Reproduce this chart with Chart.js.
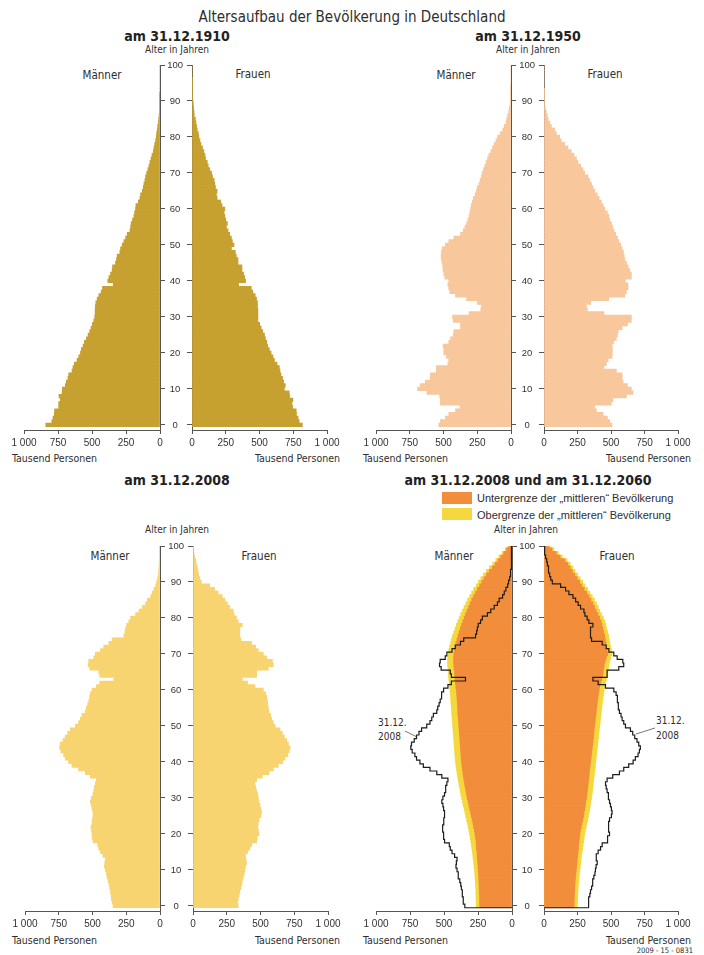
<!DOCTYPE html>
<html lang="de">
<head>
<meta charset="utf-8">
<title>Altersaufbau der Bevölkerung in Deutschland</title>
<script src="https://cdn.jsdelivr.net/npm/chart.js@4.4.1/dist/chart.umd.min.js"></script>
<style>
  html, body { margin: 0; padding: 0; background: #fff; }
  body { width: 704px; height: 955px; position: relative; overflow: hidden;
         font-family: "Liberation Sans Narrow", "DejaVu Sans Condensed", "Liberation Sans", sans-serif; color: #2e2e2e; }
  canvas { position: absolute; }
  .t { position: absolute; white-space: nowrap; line-height: 1; }
  .c { transform: translate(-50%, -50%); }
  .l { transform: translate(0, -50%); }
  .r { transform: translate(-100%, -50%); }
  .title { font-size: 15px; }
  .head { font-size: 14px; font-weight: bold; color: #222; }
  .small { font-size: 10px; }
  .sex { font-size: 11.5px; }
  .unit { font-size: 10.5px; }
  .leg { font-size: 11px; font-family: "Liberation Sans", sans-serif; }
  .sw { position: absolute; width: 30px; height: 12px; }
</style>
</head>
<body>

<div class="t c title" style="left:352px; top:17px;">Altersaufbau der Bevölkerung in Deutschland</div>

<div class="t c head" style="left:177px; top:36px;">am 31.12.1910</div>
<div class="t c head" style="left:528px; top:36px;">am 31.12.1950</div>
<div class="t c head" style="left:177px; top:480px;">am 31.12.2008</div>
<div class="t c head" style="left:528px; top:480px;">am 31.12.2008 und am 31.12.2060</div>

<div class="t c small" style="left:177px; top:50px;">Alter in Jahren</div>
<div class="t c small" style="left:528px; top:50px;">Alter in Jahren</div>
<div class="t c small" style="left:177px; top:530px;">Alter in Jahren</div>
<div class="t c small" style="left:526px; top:530px;">Alter in Jahren</div>

<div class="t c sex" style="left:102px; top:76px;">Männer</div>
<div class="t c sex" style="left:253px; top:75px;">Frauen</div>
<div class="t c sex" style="left:456px; top:76px;">Männer</div>
<div class="t c sex" style="left:605px; top:75px;">Frauen</div>
<div class="t c sex" style="left:110px; top:557px;">Männer</div>
<div class="t c sex" style="left:259px; top:557px;">Frauen</div>
<div class="t c sex" style="left:454px; top:557px;">Männer</div>
<div class="t c sex" style="left:617px; top:557px;">Frauen</div>

<div class="t l unit" style="left:12px; top:458px;">Tausend Personen</div>
<div class="t r unit" style="left:340px; top:458px;">Tausend Personen</div>
<div class="t l unit" style="left:363px; top:458px;">Tausend Personen</div>
<div class="t r unit" style="left:691px; top:458px;">Tausend Personen</div>
<div class="t l unit" style="left:12px; top:940px;">Tausend Personen</div>
<div class="t r unit" style="left:340px; top:940px;">Tausend Personen</div>
<div class="t l unit" style="left:363px; top:940px;">Tausend Personen</div>
<div class="t r unit" style="left:691px; top:940px;">Tausend Personen</div>

<div class="sw" style="left:442px; top:492px; background:#f28d3b;"></div>
<div class="sw" style="left:442px; top:508px; background:#f5d73e;"></div>
<div class="t l leg" style="left:477px; top:498px;">Untergrenze der „mittleren“ Bevölkerung</div>
<div class="t l leg" style="left:477px; top:515px;">Obergrenze der „mittleren“ Bevölkerung</div>

<div class="t l small" style="left:378px; top:723px;">31.12.</div>
<div class="t l small" style="left:378px; top:737px;">2008</div>
<div class="t l small" style="left:656px; top:721px;">31.12.</div>
<div class="t l small" style="left:656px; top:736px;">2008</div>
<svg style="position:absolute; left:0; top:0;" width="704" height="955">
  <line x1="405" y1="731" x2="417" y2="737" stroke="#555" stroke-width="0.8"/>
  <line x1="655" y1="728" x2="636" y2="734" stroke="#555" stroke-width="0.8"/>
</svg>

<div class="t r" style="left:693px; top:951px; font-size:7.5px;">2009 - 15 - 0831</div>

<script>
const ages = [0,1,2,3,4,5,6,7,8,9,10,11,12,13,14,15,16,17,18,19,20,21,22,23,24,25,26,27,28,29,30,
  31,32,33,34,35,36,37,38,39,40,41,42,43,44,45,46,47,48,49,50,51,52,53,54,55,56,57,58,59,60,
  61,62,63,64,65,66,67,68,69,70,71,72,73,74,75,76,77,78,79,80,81,82,83,84,85,86,87,88,89,90,
  91,92,93,94,95,96,97,98,99,100];

const ageTicks = [0, 10, 20, 30, 40, 50, 60, 70, 80, 90, 100];
const xTicks = [0, 250, 500, 750, 1000];
const xTickLabels = ['0', '250', '500', '750', '1 000'];

// Tausend Personen, je Altersjahr 0..100
const m1910 = [840,795,787,777,775,745,745,733,743,720, 718,696,689,677,672,647,640,630,610,598,
  585,578,566,556,541,529,517,507,497,487, 480,477,477,475,472,462,450,433,423,344,
  384,376,364,352,349,327,320,315,295,290, 278,266,253,241,221,216,212,202,192,187,
  180,177,160,148,143,130,123,118,111,106, 98,89,81,74,66,59,49,44,39,32,
  27,25,20,17,12,10,7,5,3,2, 1,1,1,0,0,0,0,0,0,0,0];
const f1910 = [818,794,786,774,772,745,740,747,723,720, 684,691,679,671,659,652,647,630,610,600,
  586,573,561,554,544,537,524,512,502,488, 488,488,488,485,485,478,468,451,439,345,
  397,390,382,370,370,341,341,328,321,292, 311,299,292,279,267,255,262,250,243,238,
  243,223,213,186,181,186,174,169,164,152, 145,132,120,113,100,96,88,78,66,59,
  51,47,39,34,29,25,17,15,12,10, 7,5,5,3,2,1,1,0,0,0,0];

const m1950 = [535,523,486,461,411,378,523,523,528,623, 692,672,635,598,598,553,553,468,461,478,
  498,498,503,461,448,428,423,374,374,428, 433,311,224,219,249,329,411,453,461,468,
  461,490,498,503,505,510,515,518,515,510, 486,461,423,374,354,341,329,319,311,304,
  299,294,286,279,266,256,249,237,229,219, 212,204,194,184,174,164,149,137,125,112,
  100,80,62,50,37,32,25,17,12,7, 5,3,2,1,1,0,0,0,0,0,0];
const f1950 = [508,490,473,441,391,378,503,515,615,665, 652,623,590,583,583,540,448,466,478,508,
  510,510,508,520,540,548,553,583,623,652, 652,448,324,316,349,483,603,615,627,627,
  608,652,652,640,627,615,603,598,593,583, 573,558,548,535,523,513,503,490,483,473,
  453,441,428,411,398,378,366,354,341,329, 304,291,274,254,242,224,204,179,154,129,
  117,92,80,55,42,30,25,17,10,5, 3,2,1,1,0,0,0,0,0,0,0];

const m2008 = [347,355,360,362,367,372,377,384,392,397, 404,412,409,404,422,441,454,461,496,503,
  503,508,511,503,501,496,496,503,508,516, 508,496,491,486,479,471,516,553,603,652,
  677,702,714,734,744,739,719,702,684,665, 627,603,590,578,553,546,536,528,521,516,
  503,471,446,342,446,454,521,533,528,491, 479,441,417,379,355,268,260,255,248,231,
  218,181,156,131,107,94,69,57,45,32, 25,17,12,10,7,7,5,4,3,2,1];
const f2008 = [335,330,335,342,347,355,360,365,372,380, 384,389,397,392,389,404,422,434,471,476,
  489,484,479,484,489,503,508,503,496,489, 484,479,471,464,459,471,513,563,595,632,
  665,682,702,712,719,707,694,677,662,645, 608,595,583,575,563,558,553,551,546,538,
  521,459,404,365,471,471,558,595,588,546, 521,484,464,434,355,347,347,347,365,335,
  322,305,298,273,255,236,216,186,161,124, 62,50,42,37,32,25,20,12,7,5,3];

// 2060: Untergrenze / Obergrenze der "mittleren" Bevölkerung
const m2060low = [238,238,238,239,240,241,242,243,245,246, 248,250,252,254,256,258,261,263,265,268,
  272,277,282,287,293,299,305,311,317,323, 329,334,339,344,349,353,357,361,365,368,
  371,373,375,377,379,381,383,385,387,389, 391,393,395,397,399,400,401,403,405,407,
  410,413,416,419,421,423,426,428,430,429, 427,423,418,412,405,397,389,380,371,362,
  352,342,331,320,308,296,283,269,254,238, 222,206,188,168,146,124,103,82,60,40,22];
const m2060high = [263,263,264,265,266,267,268,270,272,274, 276,279,282,285,288,291,295,299,303,307,
  312,317,322,328,334,340,346,352,358,364, 370,376,381,386,391,396,400,404,408,412,
  415,418,420,422,424,426,428,430,432,434, 436,438,440,442,444,446,448,450,452,454,
  456,459,462,465,467,469,471,473,474,472, 469,465,459,452,445,437,428,419,409,399,
  388,377,365,353,340,326,312,297,281,264, 247,229,210,189,166,142,119,96,72,50,30];
const f2060low = [224,225,226,227,228,229,231,233,235,238, 241,243,246,248,251,254,257,259,262,265,
  268,272,278,284,290,295,299,304,308,312, 317,320,324,327,330,333,336,338,341,344,
  348,351,354,357,360,364,367,370,372,375, 378,381,384,387,390,393,396,399,403,407,
  411,415,422,430,438,442,446,450,457,465, 476,472,466,462,458,453,446,440,433,427,
  415,403,390,378,365,350,335,318,300,282, 266,248,230,212,195,178,155,120,92,60,35];
const f2060high = [249,250,251,252,254,255,257,259,262,265, 268,271,274,277,280,284,288,292,296,300,
  304,309,315,321,327,332,337,342,346,350, 355,358,362,365,368,371,374,377,380,383,
  386,389,392,395,398,401,404,407,410,413, 416,419,422,425,428,431,434,437,441,445,
  449,453,459,466,473,477,481,485,491,498, 508,503,497,492,487,482,475,468,461,454,
  442,429,416,404,391,376,360,343,325,306, 289,270,251,232,214,196,172,136,107,74,48];

const FONT = '"Liberation Sans", sans-serif';
Chart.defaults.font.family = FONT;
Chart.defaults.color = '#333';

function bars(values, color, order) {
  return {
    data: ages.map((a, i) => ({ x: values[i], y: a })),
    backgroundColor: color,
    borderWidth: 0,
    grouped: false,
    barPercentage: 1,
    categoryPercentage: 1,
    order: order
  };
}

function outline(values) {
  const pts = [{ x: 0, y: -0.5 }];
  ages.forEach((a, i) => {
    pts.push({ x: values[i], y: a - 0.5 }, { x: values[i], y: a + 0.5 });
  });
  pts.push({ x: 0, y: 100.5 });
  return {
    type: 'line', data: pts, borderColor: '#1d1d1d', borderWidth: 1.2,
    pointRadius: 0, fill: false, tension: 0, order: 0
  };
}

function addCanvas(x, y, w, h) {
  const c = document.createElement('canvas');
  c.width = w; c.height = h;
  c.style.left = x + 'px'; c.style.top = y + 'px';
  c.style.width = w + 'px'; c.style.height = h + 'px';
  document.body.appendChild(c);
  return c;
}

function half(side, p, datasets) {
  const isLeft = side === 'left';
  const h = 10 + (p.bottom - p.top) + 30;
  let x, w, yWidth;
  if (isLeft) {
    x = p.L[0] - 20; w = p.L[1] + 5 - x; yWidth = 5;
  } else {
    x = p.L[1] + 5; yWidth = p.R[0] - x; w = p.R[1] + 20 - x;
  }
  const canvas = addCanvas(x, p.top - 10, w, h);
  return new Chart(canvas, {
    type: 'bar',
    data: { datasets: datasets },
    options: {
      responsive: false,
      animation: false,
      indexAxis: 'y',
      layout: { padding: { left: isLeft ? 20 : 0, right: isLeft ? 0 : 20, top: 10, bottom: 0 } },
      plugins: { legend: { display: false }, tooltip: { enabled: false } },
      scales: {
        x: {
          type: 'linear', min: 0, max: 1000, reverse: isLeft,
          afterBuildTicks: s => { s.ticks = xTicks.map(v => ({ value: v })); },
          afterFit: s => { s.height = 30; },
          ticks: {
            callback: v => xTickLabels[xTicks.indexOf(v)],
            font: { size: 10 }, color: '#333', padding: 3, maxRotation: 0, autoSkip: false
          },
          grid: { drawOnChartArea: false, tickLength: 4, color: '#555' },
          border: { color: '#555', width: 1 }
        },
        y: {
          type: 'linear', min: -1.4, max: 100, offset: false, position: isLeft ? 'right' : 'left',
          afterBuildTicks: s => { s.ticks = ageTicks.map(v => ({ value: v })); },
          afterFit: s => { s.width = yWidth; },
          ticks: { display: !isLeft, crossAlign: 'center', padding: 4, font: { size: 9.5 }, color: '#333' },
          grid: { drawOnChartArea: false, offset: false, tickLength: 5, color: '#555' },
          border: { color: '#555', width: 1 }
        }
      }
    }
  });
}

const p1910 = { L: [24, 160], R: [192, 327], top: 65, bottom: 430 };
const p1950 = { L: [376, 511], R: [544, 678], top: 65, bottom: 430 };
const p2008 = { L: [25, 160], R: [193, 328], top: 546, bottom: 911 };
const p2060 = { L: [376, 512], R: [544, 678], top: 546, bottom: 911 };

half('left', p1910, [bars(m1910, '#c6a130', 1)]);
half('right', p1910, [bars(f1910, '#c6a130', 1)]);
half('left', p1950, [bars(m1950, '#f8c79c', 1)]);
half('right', p1950, [bars(f1950, '#f8c79c', 1)]);
half('left', p2008, [bars(m2008, '#f8d470', 1)]);
half('right', p2008, [bars(f2008, '#f8d470', 1)]);
half('left', p2060, [outline(m2008), bars(m2060low, '#f28d3b', 1), bars(m2060high, '#f5d73e', 2)]);
half('right', p2060, [outline(f2008), bars(f2060low, '#f28d3b', 1), bars(f2060high, '#f5d73e', 2)]);
</script>
</body>
</html>
